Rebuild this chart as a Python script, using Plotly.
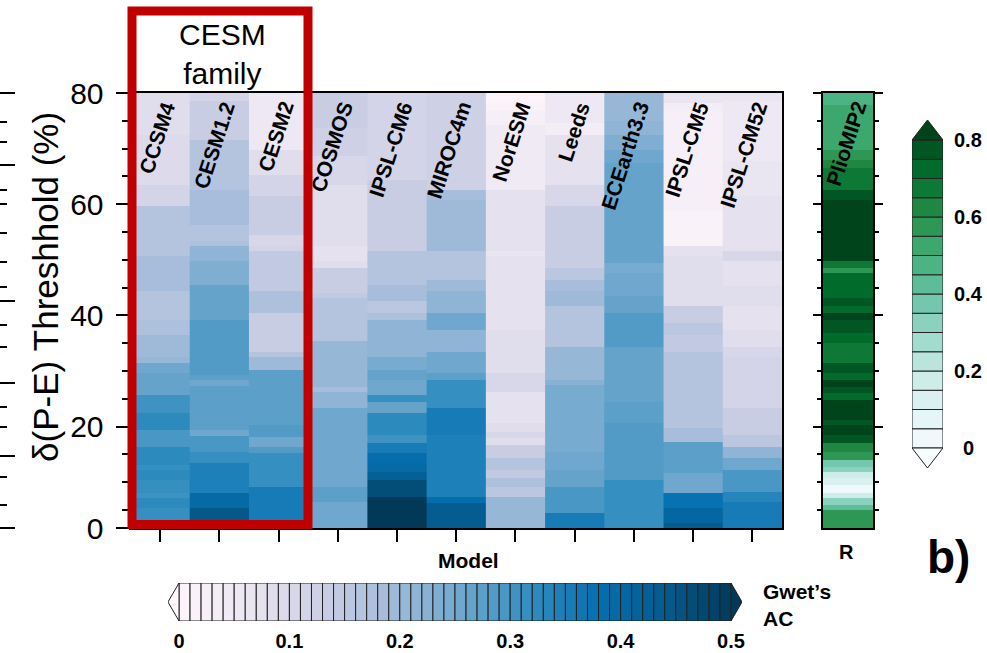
import numpy as np
import plotly.graph_objects as go

W, H = 987, 653

models = ["CCSM4", "CESM1.2", "CESM2", "COSMOS", "IPSL-CM6", "MIROC4m",
          "NorESM", "Leeds", "ECEarth3.3", "IPSL-CM5", "IPSL-CM52"]

# Band edges of the threshold axis (top -> bottom, %) and Gwet's AC of each band
ccsm4_edges = [80, 72.5, 63.5, 59.6, 54.2, 50.6, 44.3, 39.2, 36.5, 32.6, 31.4, 29.6, 25.7, 22.4,
               19.4, 16.4, 13.1, 12.2, 10.4, 8.0, 7.1, 5.3, 1.5]
ccsm4_vals = [0.09, 0.095, 0.12, 0.16, 0.165, 0.18, 0.16, 0.175, 0.19, 0.20, 0.255, 0.265, 0.30,
              0.32, 0.29, 0.325, 0.31, 0.325, 0.315, 0.30, 0.32, 0.315]

cesm12_edges = [80, 78.5, 71.6, 62.6, 56.3, 53.3, 52.4, 49.7, 45.5, 39.2, 29.3, 28.4, 27.3, 19.4,
                18.3, 15.5, 13.4, 8.0, 5.3, 1.5]
cesm12_vals = [0.12, 0.135, 0.165, 0.185, 0.16, 0.17, 0.21, 0.23, 0.26, 0.28, 0.27, 0.25, 0.27,
               0.25, 0.29, 0.31, 0.34, 0.39, 0.44]

cesm2_edges = [80, 69.8, 65.3, 61.4, 54.5, 52.4, 51.5, 44.3, 40.4, 33.5, 32.6, 30.2, 20.3, 18.2,
               16.4, 15.2, 9.2, 1.5]
cesm2_vals = [0.055, 0.085, 0.115, 0.13, 0.11, 0.12, 0.14, 0.17, 0.13, 0.165, 0.19, 0.27, 0.28,
              0.25, 0.28, 0.31, 0.35]

cosmos_edges = [80, 73.7, 68.6, 63.5, 52.4, 49.7, 48.5, 44.0, 43.1, 35.3, 27.2, 26.3, 23.3, 18.5,
                9.2, 6.5, 1.5]
cosmos_vals = [0.13, 0.125, 0.11, 0.09, 0.075, 0.09, 0.13, 0.14, 0.165, 0.2, 0.18, 0.21, 0.25,
               0.255, 0.27, 0.255]

ipslcm6_edges = [80, 64.4, 51.5, 45.5, 42.5, 40.4, 39.2, 32.6, 30.2, 28.4, 25.7, 24.5, 22.4, 18.5,
                 17.0, 15.2, 13.4, 11.9, 10.4, 7.4, 1.5]
ipslcm6_vals = [0.12, 0.13, 0.165, 0.18, 0.155, 0.17, 0.21, 0.24, 0.26, 0.25, 0.31, 0.265, 0.32,
                0.30, 0.35, 0.38, 0.39, 0.42, 0.46, 0.505]

miroc_edges = [80, 62.6, 60.8, 51.5, 46.4, 44.3, 40.4, 37.4, 33.5, 29.6, 28.4, 23.3, 18.5, 15.2,
               7.4, 6.2, 1.5]
miroc_vals = [0.125, 0.185, 0.195, 0.16, 0.195, 0.215, 0.255, 0.21, 0.25, 0.27, 0.31, 0.355,
              0.345, 0.34, 0.38, 0.43]

noresm_edges = [80, 78.2, 76.7, 74.3, 62.6, 51.5, 50.6, 37.4, 29.6, 26.3, 20.6, 19.1, 17.9, 16.7,
                14.3, 12.2, 10.7, 9.2, 7.4, 1.5]
noresm_vals = [0.005, 0.02, 0.025, 0.04, 0.07, 0.06, 0.075, 0.09, 0.10, 0.07, 0.09, 0.10, 0.09,
               0.13, 0.165, 0.145, 0.175, 0.155, 0.2]

leeds_edges = [80, 74.6, 72.5, 63.5, 61.4, 59.6, 48.5, 46.4, 44.3, 41.6, 34.4, 28.4, 27.5, 15.5,
               12.2, 9.2, 4.4, 1.5]
leeds_vals = [0.055, 0.03, 0.075, 0.11, 0.10, 0.13, 0.155, 0.18, 0.195, 0.16, 0.2, 0.22, 0.24,
              0.255, 0.265, 0.29, 0.355]

ecearth_edges = [80, 74.9, 72.5, 69.8, 67.4, 49.4, 47.6, 43.4, 40.4, 34.4, 24.5, 20.6, 10.4, 1.5]
ecearth_vals = [0.2, 0.215, 0.23, 0.255, 0.26, 0.24, 0.255, 0.265, 0.28, 0.26, 0.27, 0.28, 0.31]

ipslcm5_edges = [80, 78.2, 76.7, 58.7, 52.4, 50.6, 41.6, 38.6, 36.5, 33.5, 30.2, 19.7, 17.3, 11.6,
                 8.0, 5.3, 2.6, 1.5]
ipslcm5_vals = [0.06, 0.035, 0.025, 0.012, 0.07, 0.09, 0.135, 0.155, 0.14, 0.165, 0.16, 0.185,
                0.27, 0.255, 0.375, 0.40, 0.43]

ipslcm52_edges = [80, 78.5, 67.7, 61.4, 51.5, 49.7, 47.6, 45.2, 41.6, 37.4, 34.4, 32.6, 23.3, 18.5,
                  16.4, 14.3, 12.2, 8.3, 6.5, 1.5]
ipslcm52_vals = [0.06, 0.05, 0.065, 0.075, 0.1, 0.07, 0.075, 0.09, 0.07, 0.09, 0.11, 0.115, 0.135,
                 0.155, 0.21, 0.255, 0.29, 0.33, 0.35]

# PlioMIP2 ensemble correlation R
plio_edges = [80, 77.9, 76.4, 69.8, 68.0, 66.5, 64.1, 62.6, 60.8, 49.7, 48.5, 47.6, 46.4, 43.1,
              41.6, 40.4, 39.2, 36.8, 35.0, 31.4, 29.6, 28.4, 27.2, 26.0, 24.8, 21.2, 20.3, 18.5,
              17.0, 15.5, 14.0, 12.8, 11.9, 10.7, 9.5, 8.0, 7.1, 5.9, 5.0, 1.5]
plio_vals = [0.5, 0.52, 0.53, 0.6, 0.63, 0.67, 0.7, 0.75, 0.85, 0.65, 0.6, 0.72, 0.74, 0.78, 0.74,
             0.82, 0.76, 0.73, 0.7, 0.75, 0.72, 0.8, 0.76, 0.72, 0.83, 0.79, 0.85, 0.75, 0.63, 0.6,
             0.4, 0.32, 0.2, 0.12, 0.04, 0.17, 0.33, 0.43, 0.6]

blue_ticks = [0, 0.1, 0.2, 0.3, 0.4, 0.5]
blue_ticktext = ["0", "0.1", "0.2", "0.3", "0.4", "0.5"]
green_ticks = [0, 0.2, 0.4, 0.6, 0.8]
green_ticktext = ["0", "0.2", "0.4", "0.6", "0.8"]
y_ticks = [1.75, 20, 40, 60, 80]
y_ticktext = ["0", "20", "40", "60", "80"]

columns = [(ccsm4_edges, ccsm4_vals), (cesm12_edges, cesm12_vals), (cesm2_edges, cesm2_vals),
           (cosmos_edges, cosmos_vals), (ipslcm6_edges, ipslcm6_vals), (miroc_edges, miroc_vals),
           (noresm_edges, noresm_vals), (leeds_edges, leeds_vals), (ecearth_edges, ecearth_vals),
           (ipslcm5_edges, ipslcm5_vals), (ipslcm52_edges, ipslcm52_vals)]

FONT = "Liberation Sans, Arial, Helvetica, sans-serif"


def interp_colors(hexes, n):
    rgb = np.array([[int(h[i:i + 2], 16) for i in (1, 3, 5)] for h in hexes], float)
    pos = np.linspace(0, 1, len(hexes))
    out = []
    for t in np.linspace(0, 1, n):
        c = [int(round(np.interp(t, pos, rgb[:, k]))) for k in range(3)]
        out.append("rgb(%d,%d,%d)" % tuple(c))
    return out


def stepped(colors):
    n = len(colors)
    cs = []
    for k, c in enumerate(colors):
        cs.append([k / n, c])
        cs.append([(k + 1) / n, c])
    return cs


PuBu = ["#fff7fb", "#ece7f2", "#d0d1e6", "#a6bddb", "#74a9cf", "#3690c0", "#0570b0", "#045a8d", "#023858"]
BuGn = ["#f7fcfd", "#e5f5f9", "#ccece6", "#99d8c9", "#66c2a4", "#41ae76", "#238b45", "#006d2c", "#00441b"]

blue_step, green_step = 0.01, 0.05
n_blue = int(round(0.5 / blue_step))      # 50 boxes
n_green = int(round(0.8 / green_step))    # 16 boxes
blue_cols = interp_colors(PuBu, n_blue + 2)   # under + boxes + over
green_cols = interp_colors(BuGn, n_green + 2)
blue_cs = stepped(blue_cols)
green_cs = stepped(green_cols)


def px_x(p):
    return p / W


def px_y(p):
    return 1 - p / H


fig = go.Figure()

for i, (edges, vals) in enumerate(columns):
    fig.add_trace(go.Heatmap(
        x=[i - 0.5, i + 0.51], y=edges[::-1], z=[[v] for v in vals[::-1]],
        colorscale=blue_cs, zmin=-blue_step, zmax=0.5 + blue_step, showscale=False,
        hoverinfo="skip", xaxis="x", yaxis="y"))

fig.add_trace(go.Heatmap(
    x=[-0.5, 0.5], y=plio_edges[::-1], z=[[v] for v in plio_vals[::-1]],
    colorscale=green_cs, zmin=-green_step, zmax=0.8 + green_step, showscale=False,
    hoverinfo="skip", xaxis="x2", yaxis="y2"))

# horizontal blue label bar
blue_lv = np.arange(n_blue) * blue_step
fig.add_trace(go.Bar(x=blue_lv + blue_step / 2, y=[1] * n_blue, width=blue_step,
                     marker=dict(color=blue_cols[1:-1], line=dict(color="#222", width=1)),
                     hoverinfo="skip", xaxis="x3", yaxis="y3", showlegend=False))
fig.add_trace(go.Scatter(x=[0, -blue_step, 0, 0], y=[0, 0.5, 1, 0], fill="toself",
                         fillcolor=blue_cols[0], mode="lines", line=dict(color="#222", width=1),
                         hoverinfo="skip", xaxis="x3", yaxis="y3", showlegend=False))
fig.add_trace(go.Scatter(x=[0.5, 0.5 + blue_step, 0.5, 0.5], y=[0, 0.5, 1, 0], fill="toself",
                         fillcolor=blue_cols[-1], mode="lines", line=dict(color="#222", width=1),
                         hoverinfo="skip", xaxis="x3", yaxis="y3", showlegend=False))

# vertical green label bar
green_lv = np.arange(n_green) * green_step
fig.add_trace(go.Bar(x=[0] * n_green, y=[green_step] * n_green, base=green_lv, width=1,
                     marker=dict(color=green_cols[1:-1], line=dict(color="#222", width=1)),
                     hoverinfo="skip", xaxis="x4", yaxis="y4", showlegend=False))
fig.add_trace(go.Scatter(x=[-0.5, 0, 0.5, -0.5], y=[0, -0.052, 0, 0], fill="toself",
                         fillcolor=green_cols[0], mode="lines", line=dict(color="#222", width=1),
                         hoverinfo="skip", xaxis="x4", yaxis="y4", showlegend=False))
fig.add_trace(go.Scatter(x=[-0.5, 0, 0.5, -0.5], y=[0.8, 0.852, 0.8, 0.8], fill="toself",
                         fillcolor=green_cols[-1], mode="lines", line=dict(color="#222", width=1),
                         hoverinfo="skip", xaxis="x4", yaxis="y4", showlegend=False))

# empty trace so the clipped neighbouring-panel axis at the far left gets drawn
fig.add_trace(go.Scatter(x=[], y=[], xaxis="x7", yaxis="y6", hoverinfo="skip", showlegend=False))

YR = [1.75, 80]
minor_y = [v for v in range(5, 80, 5) if v % 20 != 0]
ydom = [px_y(528), px_y(93)]

axis_common = dict(showgrid=False, zeroline=False, automargin=False)

LBL = dict(family=FONT, size=21, color="black", weight="bold")
annotations = []
for i, m in enumerate(models):
    annotations.append(dict(x=i + 0.37, y=79.4, xref="x", yref="y", text=m, showarrow=False,
                            xanchor="right", yanchor="top", textangle=-72, font=LBL))
annotations.append(dict(x=0.5, y=79.6, xref="x2", yref="y2", text="PlioMIP2", showarrow=False,
                        xanchor="right", yanchor="top", textangle=-72, font=LBL))
annotations.append(dict(x=px_x(222), y=px_y(54), xref="paper", yref="paper",
                        text="CESM<br>family", showarrow=False, xanchor="center", yanchor="middle",
                        font=dict(family=FONT, size=30, color="black")))
annotations.append(dict(x=px_x(45), y=px_y(287), xref="paper", yref="paper",
                        text="δ(P-E) Threshhold (%)", showarrow=False, textangle=-90,
                        xanchor="center", yanchor="middle",
                        font=dict(family=FONT, size=35, color="black")))
annotations.append(dict(x=px_x(468), y=px_y(560), xref="paper", yref="paper", text="Model",
                        showarrow=False, xanchor="center", yanchor="middle",
                        font=dict(family=FONT, size=21, color="black", weight="bold")))
annotations.append(dict(x=px_x(846), y=px_y(552), xref="paper", yref="paper", text="R",
                        showarrow=False, xanchor="center", yanchor="middle",
                        font=dict(family=FONT, size=20, color="black", weight="bold")))
annotations.append(dict(x=px_x(761), y=px_y(605), xref="paper", yref="paper",
                        text="Gwet’s<br>AC", showarrow=False, xanchor="left", yanchor="middle",
                        align="left",
                        font=dict(family=FONT, size=21, color="black", weight="bold")))
annotations.append(dict(x=px_x(948), y=px_y(557), xref="paper", yref="paper", text="b)",
                        showarrow=False, xanchor="center", yanchor="middle",
                        font=dict(family=FONT, size=46, color="black", weight="bold")))
for v, t in zip(green_ticks, green_ticktext):
    annotations.append(dict(x=px_x(968), y=v, xref="paper", yref="y4", text=t, showarrow=False,
                            xanchor="center", yanchor="middle",
                            font=dict(family=FONT, size=20, color="black", weight="bold")))

fig.update_layout(
    template="none",
    width=W, height=H, autosize=False,
    margin=dict(l=0, r=0, t=0, b=0, pad=0),
    paper_bgcolor="white", plot_bgcolor="white",
    showlegend=False,
    font=dict(family=FONT, color="black"),
    xaxis=dict(domain=[px_x(130.5), px_x(782)], range=[-0.5, 10.5], anchor="y",
               tickvals=list(range(len(models))), showticklabels=False,
               ticks="outside", ticklen=12, tickwidth=1.5, tickcolor="black",
               showline=True, linewidth=2, linecolor="black", mirror=True, **axis_common),
    yaxis=dict(domain=ydom, range=YR, anchor="x", tickvals=y_ticks, ticktext=y_ticktext,
               ticks="outside", ticklen=13, tickwidth=1.5, tickcolor="black",
               minor=dict(tickvals=minor_y, ticks="outside", ticklen=7, tickwidth=1.5,
                          tickcolor="black", showgrid=False),
               tickfont=dict(family=FONT, size=30, color="black"), ticklabelstandoff=6,
               showline=True, linewidth=2, linecolor="black", mirror=True, **axis_common),
    yaxis5=dict(overlaying="y", side="right", anchor="x", range=YR,
                tickvals=[20, 40, 60, 80], ticks="outside", ticklen=15, tickwidth=1.5,
                tickcolor="black",
                minor=dict(tickvals=minor_y, ticks="outside", ticklen=8, tickwidth=1.5,
                           tickcolor="black", showgrid=False),
                showticklabels=False, showline=False, **axis_common),
    xaxis7=dict(domain=[0, 0.01], range=[0, 1], anchor="y6", visible=False, **axis_common),
    yaxis6=dict(domain=[px_y(535), px_y(80)], side="left", anchor="x7", range=[535, 80],
                tickvals=[93, 165, 301, 383, 456, 528], ticks="inside", ticklen=15, tickwidth=1.5,
                tickcolor="black",
                minor=dict(tickvals=[122, 142, 190, 204, 233, 262, 287, 325, 347, 407, 427, 477, 505],
                           ticks="inside", ticklen=7, tickwidth=1.5, tickcolor="black",
                           showgrid=False),
                showticklabels=False, showline=True, linewidth=2, linecolor="black",
                **axis_common),
    xaxis2=dict(domain=[px_x(823), px_x(873)], range=[-0.5, 0.5], anchor="y2",
                showticklabels=False, ticks="", showline=True, linewidth=2, linecolor="black",
                mirror=True, **axis_common),
    yaxis2=dict(domain=ydom, range=YR, anchor="x2", tickvals=[20, 40, 60, 80],
                ticks="outside", ticklen=8, tickwidth=1.5, tickcolor="black",
                minor=dict(tickvals=minor_y, ticks="outside", ticklen=4, tickwidth=1.5,
                           tickcolor="black", showgrid=False),
                showticklabels=False, showline=True, linewidth=2, linecolor="black",
                mirror="ticks", **axis_common),
    xaxis3=dict(domain=[px_x(179 - 11.04), px_x(731 + 11.04)], range=[-0.01, 0.51],
                anchor="y3", tickvals=blue_ticks, ticktext=blue_ticktext, ticks="outside",
                ticklen=2, tickcolor="rgba(0,0,0,0)",
                tickfont=dict(family=FONT, size=20, color="black", weight="bold"),
                showline=False, **axis_common),
    yaxis3=dict(domain=[px_y(621), px_y(583)], range=[0, 1], anchor="x3", visible=False,
                **axis_common),
    xaxis4=dict(domain=[px_x(912), px_x(943)], range=[-0.5, 0.5], anchor="y4", visible=False,
                **axis_common),
    yaxis4=dict(domain=[px_y(468.02), px_y(119.98)], range=[-0.052, 0.852], anchor="x4",
                visible=False, **axis_common),
    annotations=annotations,
    shapes=[dict(type="rect", xref="paper", yref="paper",
                 x0=px_x(132), x1=px_x(308), y0=px_y(524.5), y1=px_y(11),
                 line=dict(color="#c00000", width=9), fillcolor="rgba(0,0,0,0)", layer="above")],
)

fig.write_html("out.html", config={"displayModeBar": False},
               post_script="document.body.style.margin='0px';")
